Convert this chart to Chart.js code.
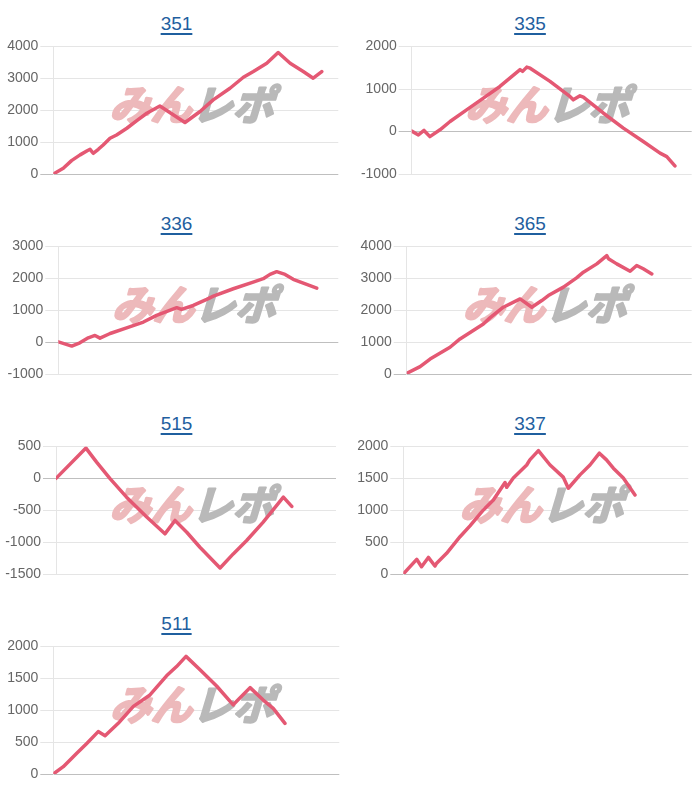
<!DOCTYPE html>
<html><head><meta charset="utf-8">
<script src="https://cdn.jsdelivr.net/npm/chart.js@4/dist/chart.umd.min.js"></script>
<style>
html,body{margin:0;padding:0;background:#fff;width:700px;height:800px;overflow:hidden;}
.ttl{position:absolute;width:200px;text-align:center;font:19px/22px "Liberation Sans",Arial,sans-serif;}
.ttl a{color:#1f5f9f;text-decoration:underline;text-decoration-thickness:2px;text-underline-offset:3px;}
canvas{position:absolute;}
</style></head><body>
<script>
// ---- data ----
const titles = ['351','335','336','365','515','337','511'];

const x351 = [0,3.5,6.4,9.4,11.9,12.9,14.0,15.8,17.5,19.9,22.2,25.8,29.3,32.8,37.4,46.2,51.5,56.1,62.0,66.7,70.2,74.9,78.9,83.1,87.7,91.2,94.2];
const y351 = [0,180,420,600,730,775,650,775,910,1120,1225,1435,1675,1905,2135,1615,1960,2325,2690,3035,3215,3475,3810,3475,3215,3005,3215];

const x335 = [0,2.4,4.4,6.5,10.1,13.7,19.6,25.6,31.5,38.7,39.6,41.1,42.3,49.4,56.5,57.7,60.1,61.3,68.5,75.6,82.7,88.7,91.1,94.0];
const y335 = [10,-80,25,-120,40,235,510,785,1060,1455,1415,1515,1490,1180,825,745,840,810,430,80,-235,-510,-590,-810];

const x336 = [0,4.8,7.7,10.7,13.1,14.9,18.5,24.4,30.4,35.1,42.3,44.0,48.2,53.0,55.4,62.5,69.6,73.2,75.6,78.0,81.0,83.9,88.7,92.3];
const y336 = [10,-125,-20,135,210,125,270,450,630,840,1080,1025,1150,1340,1445,1675,1885,1990,2125,2210,2125,1970,1810,1695];

const x365 = [0,4.7,8.2,15.2,18.7,26.9,29.2,33.9,39.8,43.9,47.4,49.7,55.0,59.6,62.0,66.7,70.2,70.8,73.7,78.4,80.7,83.0,86.0];
const y365 = [20,230,470,840,1100,1570,1760,2095,2355,2095,2305,2460,2725,3015,3195,3455,3715,3615,3455,3225,3405,3300,3140];

const x515 = [0,10.7,14.5,19.3,25.2,32.4,38.9,42.5,46.7,51.4,58.6,63.3,68.1,74.0,81.2,84.2];
const y515 = [0,475,255,-5,-295,-605,-870,-660,-845,-1080,-1405,-1185,-975,-685,-295,-440];

const x337 = [0,4.7,6.4,8.8,11.1,11.7,15.2,19.9,23.4,28.1,31.6,35.7,36.3,38.6,43.3,44.4,47.4,51.5,56.1,57.9,62.0,65.5,68.8,71.3,73.7,77.2,81.3];
const y337 = [0,230,115,260,125,170,325,585,755,1005,1160,1435,1360,1505,1710,1790,1935,1710,1520,1345,1555,1710,1895,1790,1660,1505,1240];

const x511 = [0,3.5,8.2,11.7,15.7,18.1,22.7,28.0,33.8,39.6,43.1,46.4,51.3,57.1,62.9,68.8,73.4,76.9,81.0];
const y511 = [0,115,325,480,665,600,795,1060,1240,1540,1685,1845,1635,1380,1085,1355,1160,1030,795];

const yMin  = [0,-1000,-1000,0,-1500,0,0];
const yMax  = [4000,2000,3000,4000,500,2000,2000];
const yStep = [1000,1000,1000,1000,500,500,500];

const seriesX = [x351,x335,x336,x365,x515,x337,x511];
const seriesY = [y351,y335,y336,y365,y515,y337,y511];

// ---- layout (pixels) ----
const plotLeft  = [53.3,411.7,58.3,406.7,56,403.3,53.3];
const plotRight = [338.3,691.7,338.3,691.7,336,688.3,339.3];
const COLW = 354, CW = 346, CH = 160;

const watermark = {
  id: 'watermark',
  beforeDatasetsDraw(chart) {
    const {ctx, chartArea: a} = chart;
    const cx = (a.left + a.right) / 2, cy = (a.top + a.bottom) / 2 - 6;
    ctx.save();
    ctx.font = 'bold 41px "Noto Sans CJK JP"';
    ctx.textBaseline = 'middle';
    const t1 = 'みん', t2 = 'レポ';
    const w1 = ctx.measureText(t1).width, w2 = ctx.measureText(t2).width;
    ctx.translate(cx, cy);
    ctx.transform(1, 0, -0.3, 1, 0, 0);
    const x0 = -(w1 + w2) / 2;
    ctx.lineJoin = 'round';
    ctx.lineWidth = 2.5;
    ctx.fillStyle = ctx.strokeStyle = '#edb9bb';
    ctx.strokeText(t1, x0, 0);
    ctx.fillText(t1, x0, 0);
    ctx.fillStyle = ctx.strokeStyle = '#b9b9b9';
    ctx.strokeText(t2, x0 + w1, 0);
    ctx.fillText(t2, x0 + w1, 0);
    ctx.restore();
  }
};

titles.forEach((t, i) => {
  const col = i % 2, row = Math.floor(i / 2);
  const cLeft = col * COLW, cTop = row * 200 + 30;
  const center = col === 0 ? 176.5 : 530;
  const d = document.createElement('div');
  d.className = 'ttl';
  d.style.left = (center - 100) + 'px';
  d.style.top = (row * 200 + 13) + 'px';
  const a = document.createElement('a');
  a.href = '#'; a.textContent = t;
  d.appendChild(a);
  document.body.appendChild(d);

  const cv = document.createElement('canvas');
  cv.width = CW; cv.height = CH;
  cv.style.left = cLeft + 'px'; cv.style.top = cTop + 'px';
  cv.style.width = CW + 'px'; cv.style.height = CH + 'px';
  document.body.appendChild(cv);

  const pts = seriesX[i].map((x, k) => ({x: x, y: seriesY[i][k]}));
  const axisW = plotLeft[i] - cLeft;
  new Chart(cv, {
    type: 'line',
    data: { datasets: [{
      data: pts,
      borderColor: 'rgb(228,88,115)',
      borderWidth: 3.5,
      pointRadius: 0,
      tension: 0,
      fill: false,
      borderJoinStyle: 'round',
      borderCapStyle: 'round'
    }]},
    options: {
      responsive: false,
      devicePixelRatio: 1,
      animation: false,
      layout: { padding: { left: 0, right: (cLeft + CW) - plotRight[i], top: 16.5, bottom: 16 } },
      plugins: { legend: { display: false }, tooltip: { enabled: false }, title: { display: false } },
      scales: {
        x: { type: 'linear', min: 0, max: 100, display: false },
        y: {
          min: yMin[i], max: yMax[i],
          ticks: { stepSize: yStep[i], color: '#666', padding: 2,
                   callback: v => String(v),
                   font: { family: '"Liberation Sans", Arial, sans-serif', size: 14 } },
          grid: {
            tickLength: 13,
            color: c => (c.tick && c.tick.value === 0) ? 'rgba(0,0,0,0.25)' : 'rgba(0,0,0,0.1)'
          },
          border: { color: 'rgba(0,0,0,0.1)' },
          afterFit: s => { s.width = axisW; }
        }
      }
    },
    plugins: [watermark]
  });
});
</script>
</body></html>
